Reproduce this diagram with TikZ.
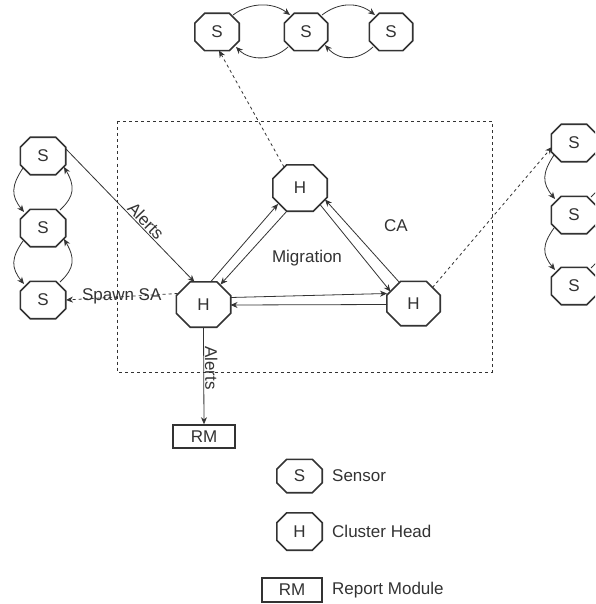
\documentclass[tikz,border=0pt]{standalone}
\usepackage{fontspec}
\setmainfont{Liberation Sans}
\usetikzlibrary{arrows.meta,calc}
\definecolor{ink}{HTML}{333333}
\tikzset{
  octnode/.style={draw=none,inner sep=0pt,text=ink,font=\fontsize{17}{20}\selectfont},
  octline/.style={draw=ink,line width=1.6pt,line join=miter},
  conn/.style={draw=ink,line width=0.8pt,-{Stealth[length=7pt,width=6pt]}},
  dconn/.style={conn,dash pattern=on 3pt off 3pt},
  lbl/.style={text=ink,font=\fontsize{17}{20}\selectfont,inner sep=1pt},
  boxnode/.style={draw=ink,line width=1.6pt,inner sep=0pt,text=ink,font=\fontsize{17}{20}\selectfont},
}
\newcommand\octo[7]{%
  \node[octnode,minimum width=#4pt,minimum height=#5pt] (#1) at (#2,#3) {#7};
  \draw[octline] ($(#1.north west)+(#6,0)$) -- ($(#1.north east)+(-#6,0)$) --
    ($(#1.north east)+(0,#6)$) -- ($(#1.south east)+(0,-#6)$) --
    ($(#1.south east)+(-#6,0)$) -- ($(#1.south west)+(#6,0)$) --
    ($(#1.south west)+(0,-#6)$) -- ($(#1.north west)+(0,#6)$) -- cycle;}
\begin{document}
\begin{tikzpicture}[x=1pt,y=-1pt]
\clip (0,0) rectangle (595,604);
\fill[white] (0,0) rectangle (595,604);
% cluster frame
\draw[ink,line width=0.8pt,dash pattern=on 3pt off 3pt] (117.5,121.5) rectangle (492,372);
% top sensors
\octo{ts1}{217}{32}{44}{37}{10}{S}
\octo{ts2}{306}{32}{43}{37}{10}{S}
\octo{ts3}{391}{32}{43}{37}{10}{S}
% left sensors
\octo{ls1}{43}{156}{45}{37}{10}{S}
\octo{ls2}{43}{228}{45}{37}{10}{S}
\octo{ls3}{43}{300}{45}{37}{10}{S}
% right sensors
\octo{rs1}{574}{143}{45}{37}{10}{S}
\octo{rs2}{574}{215}{45}{37}{10}{S}
\octo{rs3}{574}{286}{45}{37}{10}{S}
% heads
\octo{hl}{203.5}{304.5}{54}{45}{14}{H}
\octo{ht}{300}{188}{54}{46}{14}{H}
\octo{hr}{413.5}{303.5}{53}{44}{14}{H}
% report module
\node[boxnode,minimum width=62pt,minimum height=23pt] (rm) at (204,436.5) {RM};
% legend
\octo{lgs}{299.5}{476}{45}{33}{10}{S}
\octo{lgh}{299.5}{531.5}{45}{37}{10}{H}
\node[boxnode,minimum width=60pt,minimum height=24pt] (lgrm) at (292,590) {RM};
\node[lbl,anchor=west] (tS) at (331,476) {Sensor};
\node[lbl,anchor=west] (tH) at (331,531.5) {Cluster Head};
\node[lbl,anchor=west] (tR) at (331,590) {Report Module};
% text labels
\node[lbl] (mig) at (307,258) {Migration};
\node[lbl] (ca) at (396,226) {CA};
% top sensor chain
\draw[conn] ($(ts1)+(16,-17)$) .. controls ($(ts1)+(33,-30)$) and ($(ts2)+(-33,-30)$) .. ($(ts2)+(-16,-17)$);
\draw[conn] ($(ts2)+(-18,15)$) .. controls ($(ts2)+(-33,29)$) and ($(ts1)+(33,29)$) .. ($(ts1)+(19,15)$);
\draw[conn] ($(ts2)+(16,-17)$) .. controls ($(ts2)+(33,-30)$) and ($(ts3)+(-33,-30)$) .. ($(ts3)+(-16,-17)$);
\draw[conn] ($(ts3)+(-18,15)$) .. controls ($(ts3)+(-33,29)$) and ($(ts2)+(33,29)$) .. ($(ts2)+(19,13)$);
% left sensor chain
\draw[conn] ($(ls1)+(-20,12)$) .. controls ($(ls1)+(-32,30)$) and ($(ls2)+(-32,-32)$) .. ($(ls2)+(-19,-16)$);
\draw[conn] ($(ls2)+(17,-18)$) .. controls ($(ls2)+(32,-32)$) and ($(ls1)+(32,30)$) .. ($(ls1)+(21,11)$);
\draw[conn] ($(ls2)+(-20,13)$) .. controls ($(ls2)+(-32,30)$) and ($(ls3)+(-32,-32)$) .. ($(ls3)+(-19,-16)$);
\draw[conn] ($(ls3)+(17,-18)$) .. controls ($(ls3)+(32,-32)$) and ($(ls2)+(32,30)$) .. ($(ls2)+(21,11)$);
% right sensor chain
\draw[conn] ($(rs1)+(-20,12)$) .. controls ($(rs1)+(-32,30)$) and ($(rs2)+(-32,-32)$) .. ($(rs2)+(-19,-16)$);
\draw[conn] ($(rs2)+(17,-18)$) .. controls ($(rs2)+(32,-32)$) and ($(rs1)+(32,30)$) .. ($(rs1)+(21,11)$);
\draw[conn] ($(rs2)+(-20,13)$) .. controls ($(rs2)+(-32,30)$) and ($(rs3)+(-32,-32)$) .. ($(rs3)+(-19,-16)$);
\draw[conn] ($(rs3)+(17,-18)$) .. controls ($(rs3)+(32,-32)$) and ($(rs2)+(32,30)$) .. ($(rs2)+(21,11)$);
% alerts from sensor
\draw[conn] ($(ls1)+(23,-7)$) -- node[lbl,sloped,above,pos=0.58] {Alerts} ($(hl)+(-9,-22.5)$);
% spawn SA
\draw[dconn] ($(hl)+(-26,-11)$) -- node[lbl,pos=0.5] {Spawn SA} ($(ls3)+(23,0)$);
% head to head
\draw[conn] ($(hl)+(7,-22.5)$) -- ($(ht)+(-22,16)$);
\draw[conn] ($(ht)+(-13,23)$) -- ($(hl)+(17,-20)$);
\draw[conn] ($(ht)+(20,16.5)$) -- ($(hr)+(-23,-12)$);
\draw[conn] ($(hr)+(-14,-21)$) -- ($(ht)+(25,11.5)$);
\draw[conn] ($(hl)+(27,-7)$) -- ($(hr)+(-26.5,-10)$);
\draw[conn] ($(hr)+(-26.5,1)$) -- ($(hl)+(27,0.5)$);
% dashed links out of cluster
\draw[dconn] ($(ht)+(-16,-21)$) -- ($(ts1)+(2,18.5)$);
\draw[dconn] ($(hr)+(19,-16)$) -- ($(rs1)+(-22,4)$);
% alerts to RM
\draw[conn] (hl.south) -- node[lbl,sloped,above,pos=0.42] {Alerts} (rm.north);
\end{tikzpicture}
\end{document}
